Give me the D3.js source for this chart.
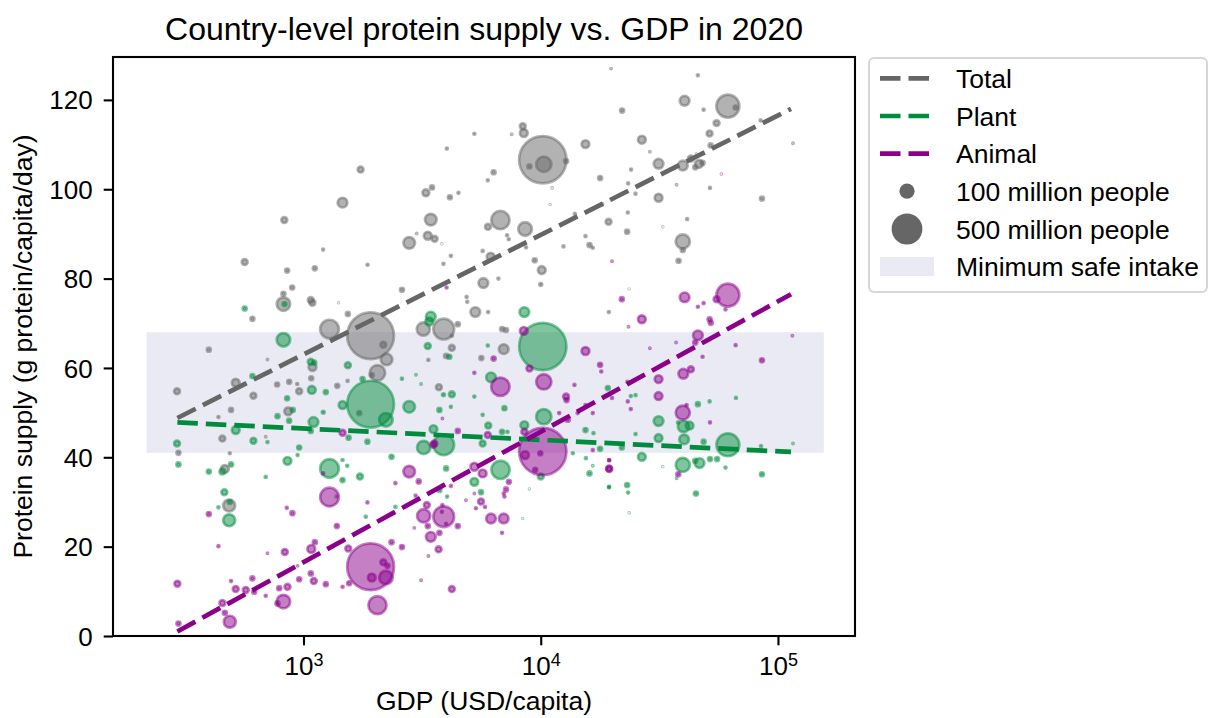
<!DOCTYPE html>
<html>
<head>
<meta charset="utf-8">
<script src="https://d3js.org/d3.v7.min.js"></script>
<style>
  body { margin: 0; background: #fff; }
  text { font-family: "Liberation Sans", Arial, Helvetica, sans-serif; fill: #000; }
</style>
</head>
<body>
<div id="chart"></div>
<script>
// each point: [GDP (USD/capita), protein (g/capita/day), population (millions)]
var totalPoints = [
  [1740,104.4,21],[1460,97.0,59],[830,93.1,21],[1210,86.5,2.5],[19800,127.0,1],
  [8400,114.1,21],[8480,112.6,38],[7540,112.3,1],[5250,112.4,2.5],[4020,109.1,2.5],
  [10200,106.6,1410],[10300,105.6,146],[8960,105.1,10],[12790,106.3,10],[15440,110.1,38],
  [17790,102.5,10],[6330,103.8,10],[5980,102.0,2.5],[3280,99.2,29],[3480,100.4,10],
  [4140,98.2,10],[4500,99.2,2.5],[3440,93.2,85],[6760,93.1,212],[8590,91.1,116],
  [5990,91.6,21],[2790,88.0,85],[3340,89.6,38],[3570,88.9,21],[7210,89.7,2.5],
  [7330,88.8,2.5],[5690,86.2,2.5],[3000,90.1,1],[3830,87.8,0.3],[11160,100.3,0.5],
  [10950,96.6,0.3],[19310,92.7,21],[18140,96.6,2.5],[13920,94.5,2.5],[15440,89.5,2.5],
  [12470,87.2,2.5],[16050,87.5,10],[16570,86.9,2.5],[8670,87.0,2.5],[4180,85.1,2.5],
  [6150,84.9,38],[45960,125.5,2.5],[40400,119.8,59],[61500,118.6,331],[66300,118.3,10],
  [22030,117.6,10],[48600,117.8,2.5],[55100,114.8,21],[51500,112.5,21],[84500,115.4,2.5],
  [26680,111.1,38],[28840,108.4,1],[52000,109.8,10],[42950,106.9,21],[39720,105.3,59],
  [46430,105.7,38],[44800,104.9,10],[48100,105.9,10],[115700,110.3,1],[31380,105.7,59],
  [24040,104.4,2.5],[23360,101.3,2.5],[25090,99.0,2.5],[37370,101.0,1],[51660,100.3,2.5],
  [31380,98.1,38],[85600,97.9,10],[23280,94.8,2.5],[41420,93.3,2.5],[23130,90.5,10],
  [32710,91.6,0.3],[39700,88.3,126],[565,83.7,21],[853,81.8,10],[1116,82.3,10],
  [896,78.0,10],[823,76.6,10],[823,74.3,115],[1073,75.2,21],[1090,74.6,21],
  [609,71.0,10],[1405,74.6,0.3],[1538,72.1,10],[1287,68.7,220],[1918,67.2,1380],
  [399,64.1,10],[705,61.9,1],[1091,60.2,38],[1078,57.7,10],[518,56.7,38],
  [293,54.8,21],[615,53.8,21],[774,56.3,10],[870,56.9,10],[941,56.4,2.5],
  [959,54.8,21],[1388,56.0,10],[1534,57.1,2.5],[862,50.3,38],[495,50.6,10],
  [438,49.0,2.5],[455,44.2,21],[693,44.6,1],[1718,49.9,10],[1862,83.1,2.5],
  [3890,83.3,2.5],[9430,84.1,10],[10100,81.9,38],[10000,78.7,5],[6630,80.0,2.5],
  [5730,79.0,59],[2600,77.5,10],[4870,75.9,2.5],[4900,74.8,2.5],[5300,72.5,59],
  [6000,72.5,2.5],[19360,72.5,2.5],[3200,68.7,110],[3900,68.7,273],[4470,69.8,10],
  [4220,67.2,2.5],[6870,68.7,10],[7140,68.5,10],[6980,64.2,59],[5620,62.2,10],
  [4220,64.5,21],[3990,62.7,10],[2170,65.2,21],[2240,61.9,85],[2050,58.9,151],
  [1940,58.4,10],[3720,55.7,21],[3360,61.8,2.5],[38100,84.0,10],[39700,86.4,10],
  [23580,77.7,0.3],[297,41.0,10],[489,40.9,2.5],[466,37.4,38],[486,29.2,90],
  [1378,31.2,2.5]
];

var plantPoints = [
  [565,73.3,10],[832,74.3,10],[823,66.3,115],[1073,61.4,21],[1110,61.2,10],
  [609,58.2,10],[1538,60.6,21],[1774,57.5,10],[1084,55.1,38],[1242,54.6,10],
  [853,53.2,10],[777,49.2,10],[870,48.2,10],[901,50.6,10],[1211,50.1,5],
  [1102,47.9,59],[1461,51.7,38],[518,46.1,38],[1073,45.9,10],[293,43.1,21],
  [615,43.7,21],[705,43.4,2.5],[959,42.2,10],[1549,44.4,10],[1918,51.9,1380],
  [297,38.4,10],[399,36.8,10],[455,36.8,21],[495,38.4,10],[693,35.6,2.5],
  [856,39.2,38],[944,40.5,2.5],[1287,37.5,220],[1461,39.4,2.5],[1529,38.1,2.5],
  [1461,34.9,10],[1729,35.7,21],[464,32.2,21],[438,28.8,2.5],[489,30.0,10],
  [486,25.9,90],[8530,72.5,59],[3440,71.5,59],[3390,70.4,38],[3340,64.9,21],
  [4120,62.5,10],[5980,65.0,2.5],[6170,57.9,59],[2600,57.6,2.5],[2980,58.5,1],
  [3130,56.4,1],[3890,54.0,5],[4220,54.1,21],[3740,50.6,10],[4180,51.3,2.5],
  [2790,51.3,85],[2225,48.4,116],[5250,53.6,2.5],[5690,49.5,2.5],[6010,47.1,21],
  [7030,51.0,10],[6870,45.7,10],[7240,45.7,2.5],[8530,47.2,38],[10300,49.1,146],
  [3530,46.3,38],[3900,42.8,273],[3210,42.2,110],[1860,43.5,10],[5690,43.1,21],
  [10200,64.8,1410],[15440,46.1,10],[16690,45.4,2.5],[17790,41.9,10],[19180,55.5,10],
  [2350,40.1,10],[3990,37.5,10],[6770,37.2,212],[5250,34.5,38],[5600,32.2,10],
  [3740,32.7,10],[4030,31.2,2.5],[2440,28.9,2.5],[1830,26.7,2.5],[10000,35.7,21],
  [8960,32.9,0.3],[13650,40.9,2.5],[15500,39.8,2.5],[16050,36.4,10],[16570,38.1,1],
  [19400,33.4,2.5],[8400,26.3,0.3],[23970,53.7,2.5],[25100,53.9,2.5],[45960,51.9,10],
  [51500,52.5,2.5],[66500,53.3,2.5],[31380,48.1,59],[40000,46.9,83],[42400,47.1,38],
  [37900,47.8,2.5],[31380,44.3,38],[40200,44.0,59],[48600,43.5,10],[25100,45.2,2.5],
  [61500,42.8,331],[84800,42.5,2.5],[115700,43.1,1],[21970,42.2,10],[26680,40.1,38],
  [39700,38.3,126],[46700,38.7,59],[44800,39.2,10],[51700,39.6,10],[55400,39.6,10],
  [60100,37.7,2.5],[32700,37.9,0.3],[37400,35.3,1],[85600,36.2,10],[23130,33.8,10],
  [19400,33.3,2.5],[23360,32.1,2.5],[45100,31.9,10],[23600,27.6,0.3]
];

var animalPoints = [
  [1211,36.4,2.5],[1287,31.1,220],[1382,24.6,10],[399,27.3,10],[438,20.1,2.5],
  [705,18.5,1],[834,18.8,21],[1078,19.5,38],[1116,21.0,10],[1544,19.6,21],
  [294,11.7,21],[495,12.3,2.5],[518,10.5,21],[571,10.3,21],[609,12.9,10],
  [620,9.9,10],[693,9.0,2.5],[455,7.4,21],[466,5.2,10],[489,3.2,90],
  [297,2.8,10],[823,7.7,115],[777,7.3,10],[856,11.0,21],[790,10.7,10],
  [959,12.7,10],[1073,14.0,10],[1105,12.3,21],[1242,11.6,10],[1461,11.0,2.5],
  [1558,11.8,10],[944,15.7,1],[850,28.7,2.5],[898,27.5,10],[1918,15.5,1380],
  [2790,36.8,85],[2440,34.2,2.5],[3060,34.6,10],[1860,29.9,2.5],[3310,29.3,21],
  [3210,26.9,110],[3900,26.7,273],[3340,24.6,10],[3440,22.2,59],[3740,23.1,10],
  [3990,25.1,2.5],[4470,24.6,10],[3850,29.3,2.5],[2930,24.2,1],[2350,21.0,10],
  [2600,19.9,10],[3710,19.4,21],[3360,17.9,1],[3130,12.5,1],[4220,10.5,21],
  [2050,6.9,206],[2170,16.5,21],[2260,15.7,10],[1940,13.1,38],[2225,13.1,116],
  [6170,26.3,59],[6980,26.3,59],[6870,23.1,2.5],[5600,30.1,21],[5330,28.6,2.5],
  [5820,28.9,2.5],[4840,30.4,1],[5250,31.9,1],[6980,31.9,2.5],[7140,32.8,10],
  [7030,31.2,2.5],[7340,34.5,10],[5690,36.4,38],[5250,37.9,38],[4180,33.6,2.5],
  [3830,27.8,2.5],[2970,31.4,2.5],[3530,42.8,21],[8590,40.5,38],[9960,40.9,10],
  [9480,37.2,10],[16570,41.6,2.5],[19400,37.5,21],[19400,39.4,2.5],[10200,41.3,1410],
  [4010,78.0,2.5],[8480,68.3,38],[15440,63.8,38],[17790,60.7,10],[18000,59.2,2.5],
  [13870,56.2,2.5],[19970,83.9,1],[6330,62.1,10],[5250,58.9,2.5],[8960,59.9,21],
  [10300,56.9,146],[6760,55.8,212],[12790,53.6,21],[12850,52.8,10],[11960,49.9,2.5],
  [13000,48.4,10],[14300,49.9,2.5],[15440,51.7,2.5],[16570,49.9,2.5],[3560,43.1,21],
  [4470,45.9,10],[3850,48.7,1],[5980,45.0,21],[8530,45.7,21],[1461,45.5,21],
  [45260,107.9,0.3],[57700,103.4,0.3],[21970,75.4,10],[40400,75.8,59],[45960,73.7,2.5],
  [48600,74.5,2.5],[55100,75.4,21],[60100,73.1,2.5],[61500,76.3,331],[26680,70.9,38],
  [51500,70.9,10],[52100,70.1,10],[23440,69.2,1],[45960,67.3,59],[44800,65.7,10],
  [37200,65.7,1],[28840,64.4,1],[66300,65.1,2.5],[115000,67.2,1],[48100,62.5,2.5],
  [85600,61.7,10],[31380,57.5,38],[39900,58.7,59],[42950,59.7,21],[31380,53.7,38],
  [23200,56.9,2.5],[23970,50.8,2.5],[23280,52.5,2.5],[41200,51.7,2.5],[39700,50.0,126],
  [51700,47.8,2.5],[19970,53.3,2.5],[19450,39.3,2.5],[19450,37.4,21],[38000,36.2,10]
];

// fitted trend lines (end points)
var trendGdp = [294, 113500];
var trendTotal = [48.8, 118.0];
var trendPlant = [47.8, 41.2];
var trendAnimal = [1.0, 76.5];

// minimum safe intake band
var safeGdp = [218, 156000];
var safeProtein = [41, 68];

var xTicks = [1e3, 1e4, 1e5];
var yTicks = [0, 20, 40, 60, 80, 100, 120];
var legendPops = [100, 500];

var colors = { total: "#666666", plant: "#008c3c", animal: "#8b008b" };

var width = 1209;
var height = 718;
var plotLeft = 113, plotRight = 855, plotTop = 57, plotBottom = 636;

var svg = d3.select("#chart")
  .append("svg")
  .attr("width", width)
  .attr("height", height);

var xScale = d3.scaleLog()
  .domain([157.4, 211200])
  .range([plotLeft, plotRight]);

var yScale = d3.scaleLinear()
  .domain([0, 129.6])
  .range([plotBottom, plotTop]);

// area of marker proportional to population
var rScale = d3.scaleSqrt()
  .domain([0, 100])
  .range([0, 6.3]);

// band
svg.append("rect")
  .attr("x", xScale(safeGdp[0]))
  .attr("y", yScale(safeProtein[1]))
  .attr("width", xScale(safeGdp[1]) - xScale(safeGdp[0]))
  .attr("height", yScale(safeProtein[0]) - yScale(safeProtein[1]))
  .attr("fill", "#eaeaf4");

function drawPoints(points, color) {
  svg.append("g")
    .selectAll("circle")
    .data(points)
    .enter()
    .append("circle")
    .attr("cx", d => xScale(d[0]))
    .attr("cy", d => yScale(d[1]))
    .attr("r", d => rScale(d[2]))
    .attr("fill", color)
    .attr("fill-opacity", 0.5)
    .attr("stroke", color)
    .attr("stroke-opacity", 0.5)
    .attr("stroke-width", 2.7);
}

drawPoints(totalPoints, colors.total);
drawPoints(plantPoints, colors.plant);
drawPoints(animalPoints, colors.animal);

// trend lines
var line = d3.line()
  .x(d => xScale(d[0]))
  .y(d => yScale(d[1]));

function drawTrend(values, color) {
  svg.append("path")
    .datum(trendGdp.map((g, i) => [g, values[i]]))
    .attr("d", line)
    .attr("fill", "none")
    .attr("stroke", color)
    .attr("stroke-width", 4.7)
    .attr("stroke-dasharray", "20.5,8");
}

drawTrend(trendTotal, colors.total);
drawTrend(trendPlant, colors.plant);
drawTrend(trendAnimal, colors.animal);

// frame
svg.append("rect")
  .attr("x", plotLeft)
  .attr("y", plotTop)
  .attr("width", plotRight - plotLeft)
  .attr("height", plotBottom - plotTop)
  .attr("fill", "none")
  .attr("stroke", "#000")
  .attr("stroke-width", 2.1);

// x axis
var xAxisGroup = svg.append("g")
  .attr("transform", `translate(0, ${plotBottom})`)
  .call(d3.axisBottom(xScale).tickValues(xTicks).tickSize(9.3).tickFormat(""));

xAxisGroup.select(".domain").remove();
xAxisGroup.selectAll(".tick line").attr("stroke-width", 2.1);
xAxisGroup.selectAll(".tick text")
  .attr("y", 39)
  .attr("dy", null)
  .attr("font-size", 26)
  .attr("font-family", '"Liberation Sans", Arial, sans-serif')
  .each(function(d) {
    var t = d3.select(this);
    t.append("tspan").text("10");
    t.append("tspan").attr("dy", -9).attr("font-size", 18).text(Math.round(Math.log10(d)));
  });

// y axis
var yAxisGroup = svg.append("g")
  .attr("transform", `translate(${plotLeft}, 0)`)
  .call(d3.axisLeft(yScale).tickValues(yTicks).tickSize(9.3).tickPadding(11));

yAxisGroup.select(".domain").remove();
yAxisGroup.selectAll(".tick line").attr("stroke-width", 2.1);
yAxisGroup.selectAll(".tick text")
  .attr("font-size", 26)
  .attr("dy", "0.35em")
  .attr("font-family", '"Liberation Sans", Arial, sans-serif');

// titles
svg.append("text")
  .attr("x", (plotLeft + plotRight) / 2)
  .attr("y", 40)
  .attr("text-anchor", "middle")
  .attr("font-size", 32)
  .text("Country-level protein supply vs. GDP in 2020");

svg.append("text")
  .attr("x", (plotLeft + plotRight) / 2)
  .attr("y", 710)
  .attr("text-anchor", "middle")
  .attr("font-size", 26.5)
  .text("GDP (USD/capita)");

svg.append("text")
  .attr("transform", `translate(32, ${(plotTop + plotBottom) / 2}) rotate(-90)`)
  .attr("text-anchor", "middle")
  .attr("font-size", 26.5)
  .text("Protein supply (g protein/capita/day)");

// legend
var legend = svg.append("g");

legend.append("rect")
  .attr("x", 869)
  .attr("y", 58)
  .attr("width", 338)
  .attr("height", 234)
  .attr("rx", 5)
  .attr("fill", "#fff")
  .attr("fill-opacity", 0.8)
  .attr("stroke", "#d6d6d6")
  .attr("stroke-width", 2);

var legendRows = [78.3, 116, 153.6, 191.2, 229, 266.5];
var legendLabels = ["Total", "Plant", "Animal", "100 million people", "500 million people", "Minimum safe intake"];
var lineColors = [colors.total, colors.plant, colors.animal];

lineColors.forEach(function(c, i) {
  legend.append("line")
    .attr("x1", 880)
    .attr("x2", 933)
    .attr("y1", legendRows[i])
    .attr("y2", legendRows[i])
    .attr("stroke", c)
    .attr("stroke-width", 4.7)
    .attr("stroke-dasharray", "20.5,8");
});

legendPops.forEach(function(p, i) {
  legend.append("circle")
    .attr("cx", 907)
    .attr("cy", legendRows[3 + i])
    .attr("r", rScale(p) + 1.3)
    .attr("fill", colors.total);
});

legend.append("rect")
  .attr("x", 880)
  .attr("y", legendRows[5] - 9.5)
  .attr("width", 54)
  .attr("height", 19)
  .attr("fill", "#eaeaf4");

legend.selectAll("text.label")
  .data(legendLabels)
  .enter()
  .append("text")
  .attr("class", "label")
  .attr("x", 956)
  .attr("y", (d, i) => legendRows[i] + 9.5)
  .attr("font-size", 26.5)
  .text(d => d);
</script>
</body>
</html>
